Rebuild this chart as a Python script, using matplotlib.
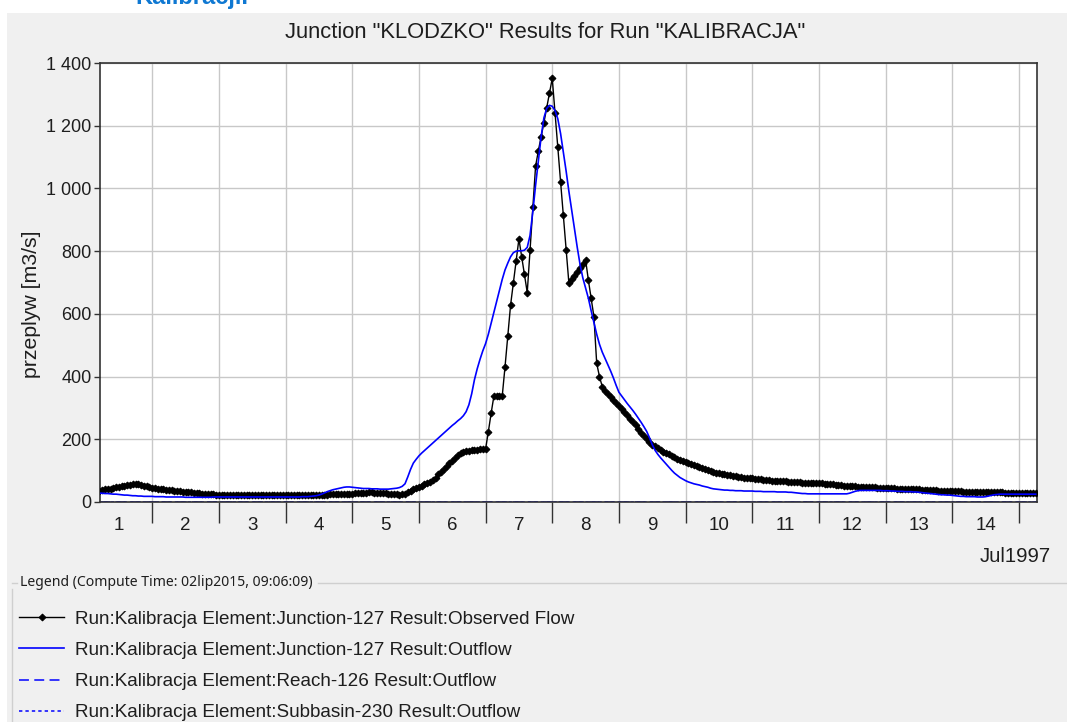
import numpy as np
import matplotlib
matplotlib.use("Agg")
import matplotlib.pyplot as plt
from matplotlib.lines import Line2D
from matplotlib.patches import Rectangle
from matplotlib.ticker import FixedLocator, FuncFormatter, NullFormatter

# ---------------- data (hourly, first value at Jul 1 05:00) ----------------
start_hour = 5
observed_flow = [
    36, 38, 40, 41, 43, 45, 47, 48, 50, 52, 54, 55, 57, 58, 56, 54, 52, 50, 48,
    46, 44, 43, 41, 40, 39, 38, 37, 36, 35, 34, 33, 32, 31, 31, 30, 29, 28, 27, 26, 25, 24, 24, 23,
    23, 23, 22, 22, 22, 22, 22, 22, 22, 22, 22, 22, 22, 22, 22, 22, 22, 22, 22, 22, 22, 22, 22, 22,
    22, 22, 22, 22, 22, 22, 22, 22, 22, 22, 22, 22, 22, 23, 23, 23, 24, 24, 24, 25, 25, 25, 26, 26,
    27, 28, 29, 30, 30, 30, 31, 31, 30, 30, 30, 29, 28, 27, 26, 25, 24, 23, 24, 27, 31, 35, 40, 45,
    48, 52, 56, 60, 65, 70, 78, 88, 97, 105, 114, 123, 132, 141, 150, 157, 161, 163, 164, 165, 166, 167, 168, 168,
    169, 224, 283, 338, 338, 338, 338, 431, 529, 628, 698, 770, 839, 782, 726, 668, 804, 942, 1071, 1120, 1165, 1210, 1257, 1303,
    1351, 1240, 1133, 1021, 914, 804, 697, 710, 722, 735, 747, 760, 772, 708, 650, 591, 442, 400, 368, 355, 345, 335, 325, 315,
    305, 295, 287, 277, 266, 256, 245, 233, 221, 209, 200, 191, 183, 178, 172, 166, 161, 157, 152, 147, 142, 138, 134, 130,
    127, 123, 120, 117, 114, 111, 108, 105, 102, 99, 96, 94, 92, 90, 88, 86, 85, 83, 82, 80, 79, 78, 77, 76,
    75, 74, 73, 72, 71, 70, 69, 68, 68, 67, 67, 66, 66, 65, 64, 64, 63, 63, 62, 62, 61, 61, 60, 60,
    59, 59, 58, 57, 56, 56, 55, 54, 53, 52, 51, 51, 50, 50, 49, 49, 48, 48, 47, 47, 47, 46, 46, 46,
    45, 45, 44, 44, 43, 43, 42, 42, 42, 41, 41, 40, 40, 39, 39, 38, 38, 37, 37, 36, 36, 36, 35, 35,
    35, 34, 34, 34, 33, 33, 33, 33, 32, 32, 32, 32, 32, 31, 31, 31, 31, 31, 31, 30, 30, 30, 30, 30,
    30, 30, 29, 29, 29, 29, 29,
]
junction_outflow = [
    28, 28, 27, 27, 26, 25, 25, 24, 23, 22, 22, 21, 20, 20, 19, 19, 18, 18, 18,
    18, 17, 17, 17, 17, 16, 16, 16, 16, 16, 16, 16, 15, 15, 15, 15, 15, 15, 15, 15, 15, 15, 16, 16,
    16, 16, 16, 16, 16, 16, 16, 16, 16, 16, 16, 16, 16, 16, 16, 16, 16, 16, 16, 16, 16, 16, 16, 16,
    16, 16, 16, 16, 16, 16, 17, 17, 17, 18, 19, 20, 22, 25, 29, 33, 36, 39, 41, 43, 45, 47, 48, 48,
    47, 46, 45, 44, 43, 43, 43, 42, 42, 42, 41, 41, 41, 41, 42, 43, 44, 46, 50, 58, 80, 104, 124, 136,
    147, 156, 164, 172, 180, 188, 196, 204, 212, 220, 228, 236, 244, 251, 259, 266, 275, 288, 310, 345, 390, 425, 455, 482,
    505, 535, 570, 605, 640, 675, 710, 740, 762, 782, 795, 800, 801, 801, 803, 812, 850, 925, 1010, 1088, 1165, 1225, 1255, 1265,
    1262, 1248, 1222, 1175, 1115, 1055, 990, 930, 870, 812, 758, 715, 682, 650, 610, 572, 535, 503, 478, 458, 438, 418, 396, 372,
    350, 338, 326, 314, 303, 292, 280, 267, 254, 240, 225, 205, 183, 165, 152, 141, 131, 121, 111, 101, 92, 85, 78, 73,
    68, 64, 61, 58, 56, 54, 51, 49, 47, 44, 42, 41, 40, 39, 38, 38, 37, 37, 36, 36, 36, 35, 35, 35,
    35, 34, 34, 34, 33, 33, 33, 33, 33, 32, 32, 32, 32, 31, 31, 30, 29, 28, 27, 27, 26, 26, 26, 26,
    26, 26, 26, 26, 26, 26, 26, 26, 26, 26, 26, 28, 31, 34, 36, 37, 37, 37, 37, 37, 37, 37, 37, 36,
    36, 36, 35, 35, 34, 34, 34, 33, 33, 33, 32, 32, 31, 30, 29, 28, 27, 26, 25, 24, 23, 23, 22, 22,
    21, 20, 19, 18, 18, 17, 17, 17, 17, 16, 16, 16, 17, 19, 21, 23, 24, 25, 25, 25, 25, 25, 25, 25,
    25, 25, 25, 25, 25, 25, 25,
]
# daily values (Jul 1 00:00 ... Jul 16 00:00)
reach126_outflow = [1.5, 1.5, 1.5, 1.5, 1.5, 1.5, 1.5, 1.5, 1.5, 1.5, 1.5, 1.5, 1.5, 1.5, 1.5, 1.5]
subbasin230_outflow = [1.0, 1.0, 1.0, 1.0, 1.0, 1.0, 1.0, 1.0, 1.0, 1.0, 1.0, 1.0, 1.0, 1.0, 1.0, 1.0]

day_labels = [str(d) for d in range(1, 15)]
legend_labels = [
    "Run:Kalibracja Element:Junction-127 Result:Observed Flow",
    "Run:Kalibracja Element:Junction-127 Result:Outflow",
    "Run:Kalibracja Element:Reach-126 Result:Outflow",
    "Run:Kalibracja Element:Subbasin-230 Result:Outflow",
]
title = 'Junction "KLODZKO" Results for Run "KALIBRACJA"'
ylabel = "przeplyw [m3/s]"
legend_title = "Legend (Compute Time: 02lip2015, 09:06:09)"

# ---------------- figure ----------------
W, H = 1067, 722
fig = plt.figure(figsize=(W / 100, H / 100), dpi=100, facecolor="white")
FONT = "Liberation Sans"
TXT = "#1e1e1e"


def fx(px):
    return px / W


def fy(py):
    return 1 - py / H


fig.patches.append(Rectangle((fx(7), 0), 1 - fx(7), fy(13), transform=fig.transFigure,
                             facecolor="#f0f0f0", edgecolor="none", zorder=-10))
fig.text(fx(135), fy(4), "Kalibracji.", color="#0f78d2", fontsize=17, fontweight="bold",
         va="baseline", ha="left", family=FONT)

ax = fig.add_axes([fx(100), fy(502), fx(1037) - fx(100), fy(63) - fy(502)])
ax.set_facecolor("white")

x_hours = (start_hour + np.arange(len(observed_flow))) / 24.0
x_days = np.arange(len(reach126_outflow), dtype=float)

l_reach, = ax.plot(x_days, reach126_outflow, color="#0000ff", lw=1.1, zorder=2)
l_reach.set_dashes([6.5, 3.5])
l_sub, = ax.plot(x_days, subbasin230_outflow, color="#0000ff", lw=1.1, zorder=2.1)
l_sub.set_dashes([2.2, 2.0])
l_obs, = ax.plot(x_hours, observed_flow, color="black", lw=1.0, marker="D", ms=3.5,
                 markeredgewidth=0.7, zorder=3)
l_out, = ax.plot(x_hours, junction_outflow, color="#0000ff", lw=1.2, zorder=4)

ax.set_xlim(0.2175, 14.27)
ax.set_ylim(0, 1400)

ax.xaxis.set_major_locator(FixedLocator(list(range(1, 15))))
ax.xaxis.set_major_formatter(NullFormatter())
ax.xaxis.set_minor_locator(FixedLocator([d - 0.5 for d in range(1, 15)]))
ax.xaxis.set_minor_formatter(FuncFormatter(lambda v, p: day_labels[int(round(v - 0.5))]))
ax.yaxis.set_major_locator(FixedLocator(list(range(0, 1401, 200))))
ax.yaxis.set_major_formatter(FuncFormatter(lambda v, p: f"{v:,.0f}".replace(",", " ")))

ax.tick_params(axis="x", which="major", length=15, width=1.0, direction="out", color="#333333")
ax.tick_params(axis="x", which="minor", length=0, pad=11, labelsize=13.5, labelcolor=TXT)
ax.tick_params(axis="y", which="major", length=4, width=1.0, direction="out", color="#333333",
               labelsize=13, labelcolor=TXT, pad=2)
for lab in ax.get_xticklabels(minor=True) + ax.get_yticklabels():
    lab.set_family(FONT)

ax.grid(True, which="major", color="#c8c8c8", lw=1.0)
ax.set_axisbelow(True)
for s in ax.spines.values():
    s.set_color("#333333")
    s.set_linewidth(1.2)

fig.text(fx(545), fy(32), title, ha="center", va="center", fontsize=15.8, color=TXT, family=FONT)
fig.text(fx(32), fy(304), ylabel, ha="center", va="center", rotation=90, fontsize=15.3,
         color=TXT, family=FONT)
fig.text(fx(1015), fy(556), "Jul1997", ha="center", va="center", fontsize=14.6, color=TXT, family=FONT)

# legend box (titled border)
fig.text(fx(20), fy(583), legend_title, ha="left", va="center", fontsize=10.1, color=TXT,
         family="Noto Sans")
bc = "#cfcfcf"
fig.add_artist(Line2D([fx(12), fx(12)], [fy(589), 0], transform=fig.transFigure, color=bc, lw=1))
fig.add_artist(Line2D([fx(12), fx(17)], [fy(583), fy(583)], transform=fig.transFigure, color=bc, lw=1))
fig.add_artist(Line2D([fx(318), 1], [fy(583), fy(583)], transform=fig.transFigure, color=bc, lw=1))

leg = fig.legend([l_obs, l_out, l_reach, l_sub], legend_labels, loc="upper left",
                 bbox_to_anchor=(fx(19), fy(610.5)), bbox_transform=fig.transFigure,
                 frameon=False, prop={"family": FONT, "size": 13.6}, handlelength=2.4,
                 handletextpad=0.55, labelspacing=0.74, borderaxespad=0, borderpad=0,
                 numpoints=1, labelcolor=TXT)

fig.savefig("out.png", dpi=100, facecolor=fig.get_facecolor())
